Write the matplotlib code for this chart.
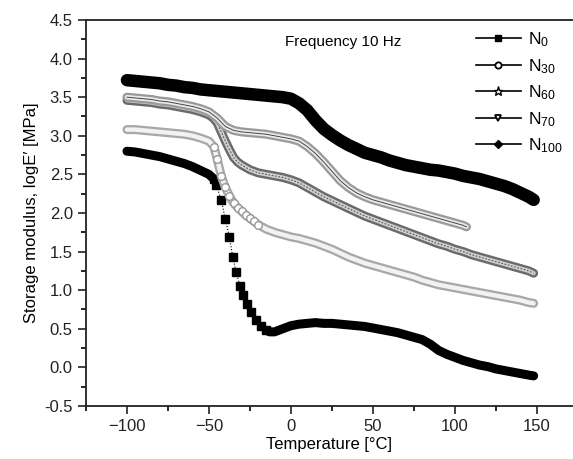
import matplotlib
matplotlib.use("Agg")
import matplotlib.pyplot as plt
from matplotlib.lines import Line2D
from matplotlib.ticker import MultipleLocator, FormatStrFormatter

plt.rcParams['font.family'] = ['Liberation Sans', 'DejaVu Sans']
plt.rcParams['mathtext.fontset'] = 'custom'
plt.rcParams['mathtext.rm'] = 'Liberation Sans'
plt.rcParams['mathtext.it'] = 'Liberation Sans'

# storage modulus vs temperature
t_n0 = [-100, -95, -90, -85, -80, -75, -70, -65, -60, -55, -50, -47, -45.5, -42.5, -40, -37.5,
        -35.5, -33.5, -31, -29, -26.5, -24.5, -21, -18, -15, -13, -10, -5, 0, 5, 10, 15, 20,
        25, 30, 35, 40, 45, 50, 55, 60, 65, 70, 75, 80, 85, 90, 95, 100, 105, 110, 115, 120,
        125, 130, 135, 140, 145, 148]
e_n0 = [2.80, 2.79, 2.77, 2.75, 2.73, 2.70, 2.67, 2.64, 2.60, 2.55, 2.50, 2.44, 2.36, 2.17,
        1.92, 1.69, 1.43, 1.24, 1.05, 0.94, 0.82, 0.72, 0.61, 0.53, 0.48, 0.46, 0.46, 0.50,
        0.54, 0.56, 0.57, 0.58, 0.57, 0.57, 0.56, 0.55, 0.54, 0.53, 0.51, 0.49, 0.47, 0.45,
        0.42, 0.39, 0.36, 0.30, 0.22, 0.17, 0.13, 0.09, 0.06, 0.03, 0.01, -0.02, -0.04,
        -0.06, -0.08, -0.10, -0.11]

t_n30 = [-100, -95, -90, -85, -80, -75, -70, -65, -60, -55, -50, -47, -45, -42.5, -40, -37.5,
         -35, -32.5, -30, -27.5, -25, -22.5, -20, -15, -10, -5, 0, 5, 10, 15, 20, 25, 30, 35,
         40, 45, 50, 55, 60, 65, 70, 75, 80, 85, 90, 95, 100, 105, 110, 115, 120, 125, 130,
         135, 140, 145, 148]
e_n30 = [3.08, 3.08, 3.07, 3.06, 3.05, 3.04, 3.03, 3.02, 3.00, 2.97, 2.93, 2.86, 2.70, 2.48,
         2.33, 2.22, 2.13, 2.07, 2.02, 1.97, 1.93, 1.89, 1.85, 1.79, 1.75, 1.72, 1.69, 1.67,
         1.64, 1.61, 1.57, 1.53, 1.48, 1.43, 1.39, 1.35, 1.32, 1.29, 1.26, 1.23, 1.20, 1.17,
         1.13, 1.10, 1.07, 1.05, 1.03, 1.01, 0.99, 0.97, 0.95, 0.93, 0.91, 0.89, 0.87, 0.84,
         0.83]

t_n60 = [-100, -95, -90, -85, -80, -75, -70, -65, -60, -55, -50, -47.5, -45, -42.5, -40,
         -37.5, -35, -32.5, -30, -25, -20, -15, -10, -5, 0, 5, 10, 15, 20, 25, 30, 35, 40, 45,
         50, 55, 60, 65, 70, 75, 80, 85, 90, 95, 100, 105, 110, 115, 120, 125, 130, 135, 140,
         145, 148]
e_n60 = [3.46, 3.45, 3.44, 3.43, 3.41, 3.40, 3.38, 3.36, 3.34, 3.31, 3.27, 3.23, 3.17, 3.05,
         2.93, 2.82, 2.72, 2.66, 2.62, 2.56, 2.52, 2.50, 2.48, 2.46, 2.43, 2.39, 2.33, 2.27,
         2.21, 2.16, 2.11, 2.06, 2.01, 1.96, 1.92, 1.88, 1.84, 1.80, 1.76, 1.72, 1.68, 1.64,
         1.60, 1.57, 1.53, 1.50, 1.46, 1.43, 1.40, 1.37, 1.34, 1.31, 1.28, 1.25, 1.22]

t_n70 = [-100, -95, -90, -85, -80, -75, -70, -65, -60, -55, -50, -45, -40, -35, -30, -25, -20,
         -15, -10, -5, 0, 5, 10, 15, 20, 25, 30, 35, 40, 45, 50, 55, 60, 65, 70, 75, 80, 85,
         90, 95, 100, 105, 107]
e_n70 = [3.50, 3.49, 3.48, 3.47, 3.45, 3.44, 3.42, 3.40, 3.38, 3.35, 3.31, 3.23, 3.12, 3.07,
         3.05, 3.04, 3.03, 3.02, 3.00, 2.98, 2.96, 2.93, 2.86, 2.77, 2.66, 2.54, 2.42, 2.33,
         2.26, 2.21, 2.17, 2.14, 2.11, 2.08, 2.05, 2.02, 1.99, 1.96, 1.93, 1.90, 1.87, 1.84,
         1.82]

t_n100 = [-100, -95, -90, -85, -80, -75, -70, -65, -60, -55, -50, -45, -40, -35, -30, -25, -20,
          -15, -10, -5, 0, 5, 10, 15, 20, 25, 30, 35, 40, 45, 50, 55, 60, 65, 70, 75, 80, 85,
          90, 95, 100, 105, 110, 115, 120, 125, 130, 135, 140, 145, 148]
e_n100 = [3.72, 3.71, 3.70, 3.69, 3.68, 3.66, 3.65, 3.63, 3.62, 3.60, 3.59, 3.58, 3.57, 3.56,
          3.55, 3.54, 3.53, 3.52, 3.51, 3.50, 3.48, 3.42, 3.33, 3.20, 3.09, 3.01, 2.94, 2.88,
          2.83, 2.78, 2.75, 2.72, 2.68, 2.65, 2.62, 2.60, 2.58, 2.56, 2.55, 2.53, 2.51, 2.48,
          2.46, 2.44, 2.41, 2.38, 2.35, 2.31, 2.26, 2.21, 2.17]

labels = [r'$\mathregular{N_{0}}$', r'$\mathregular{N_{30}}$', r'$\mathregular{N_{60}}$',
          r'$\mathregular{N_{70}}$', r'$\mathregular{N_{100}}$']

fig = plt.figure(figsize=(5.73, 4.59), dpi=100)
ax = fig.add_axes([0.150, 0.1155, 0.85, 0.841])

# the dense runs of points print as bands; the steep parts show single markers
steep0 = [-47 <= t <= -15 for t in t_n0]
flat0 = [not s for s in steep0]
ax.plot(t_n0[:12], e_n0[:12], color='black', lw=6.5, solid_capstyle='round')
ax.plot(t_n0[24:], e_n0[24:], color='black', lw=6.5, solid_capstyle='round')
ax.plot(t_n0, e_n0, color='black', lw=0.8, ls=':', marker='s', ms=6, mfc='black', mec='black',
        markevery=steep0)

steep30 = [-47 <= t <= -20 for t in t_n30]
ax.plot(t_n30, e_n30, color='#a8a8a8', lw=6.5, solid_capstyle='round')
ax.plot(t_n30, e_n30, color='#f2f2f2', lw=3.2, solid_capstyle='round')
ax.plot(t_n30, e_n30, ls='none', marker='o', ms=5.5, mfc='white', mec='#999999', mew=1.0,
        markevery=steep30)

ax.plot(t_n60, e_n60, color='#6a6a6a', lw=6.5, solid_capstyle='round')
ax.plot(t_n60, e_n60, color='#d0d0d0', lw=3.0, solid_capstyle='round')
ax.plot(t_n60, e_n60, color='#555555', lw=0.8, ls=(0, (1.5, 1.5)))

ax.plot(t_n70, e_n70, color='#9a9a9a', lw=6.5, solid_capstyle='round')
ax.plot(t_n70, e_n70, color='#ececec', lw=3.2, solid_capstyle='round')
ax.plot(t_n70, e_n70, color='#444444', lw=0.7)

ax.plot(t_n100, e_n100, color='black', lw=9, solid_capstyle='round')

ax.set_xlim(-125, 172)
ax.set_ylim(-0.5, 4.5)
ax.xaxis.set_major_locator(MultipleLocator(50))
ax.xaxis.set_minor_locator(MultipleLocator(25))
ax.yaxis.set_major_locator(MultipleLocator(0.5))
ax.yaxis.set_minor_locator(MultipleLocator(0.25))
ax.yaxis.set_major_formatter(FormatStrFormatter('%.1f'))
ax.tick_params(which='major', direction='out', length=6, width=1.2, labelsize=12, colors='#222222')
ax.tick_params(which='minor', direction='out', length=3.5, width=1.2)
ax.spines['right'].set_visible(False)
for s in ['left', 'bottom', 'top']:
    ax.spines[s].set_linewidth(1.3)
    ax.spines[s].set_color('#222222')

ax.set_xlabel('Temperature [°C]', fontsize=12, labelpad=2)
ax.set_ylabel('Storage modulus, logE′ [MPa]', fontsize=12, labelpad=4)
ax.text(-3.5, 4.21, 'Frequency 10 Hz', fontsize=11, ha='left', va='center')

handles = [
    Line2D([], [], color='black', lw=1.2, marker='s', ms=4.5, mfc='black'),
    Line2D([], [], color='black', lw=1.2, marker='o', ms=4.5, mfc='white', mew=1.3),
    Line2D([], [], color='black', lw=1.2, marker='*', ms=6.5, mfc='white', mew=1.0),
    Line2D([], [], color='black', lw=1.2, marker='v', ms=5, mfc='white', mew=1.3),
    Line2D([], [], color='black', lw=1.2, marker='D', ms=4.5, mfc='black'),
]
ax.legend(handles, labels, loc='upper right', bbox_to_anchor=(1.0, 1.0), frameon=False,
          fontsize=12.5, handlelength=2.6, handletextpad=0.4, labelspacing=0.45,
          numpoints=1, borderaxespad=0.2)

fig.savefig('out.png', dpi=100)
